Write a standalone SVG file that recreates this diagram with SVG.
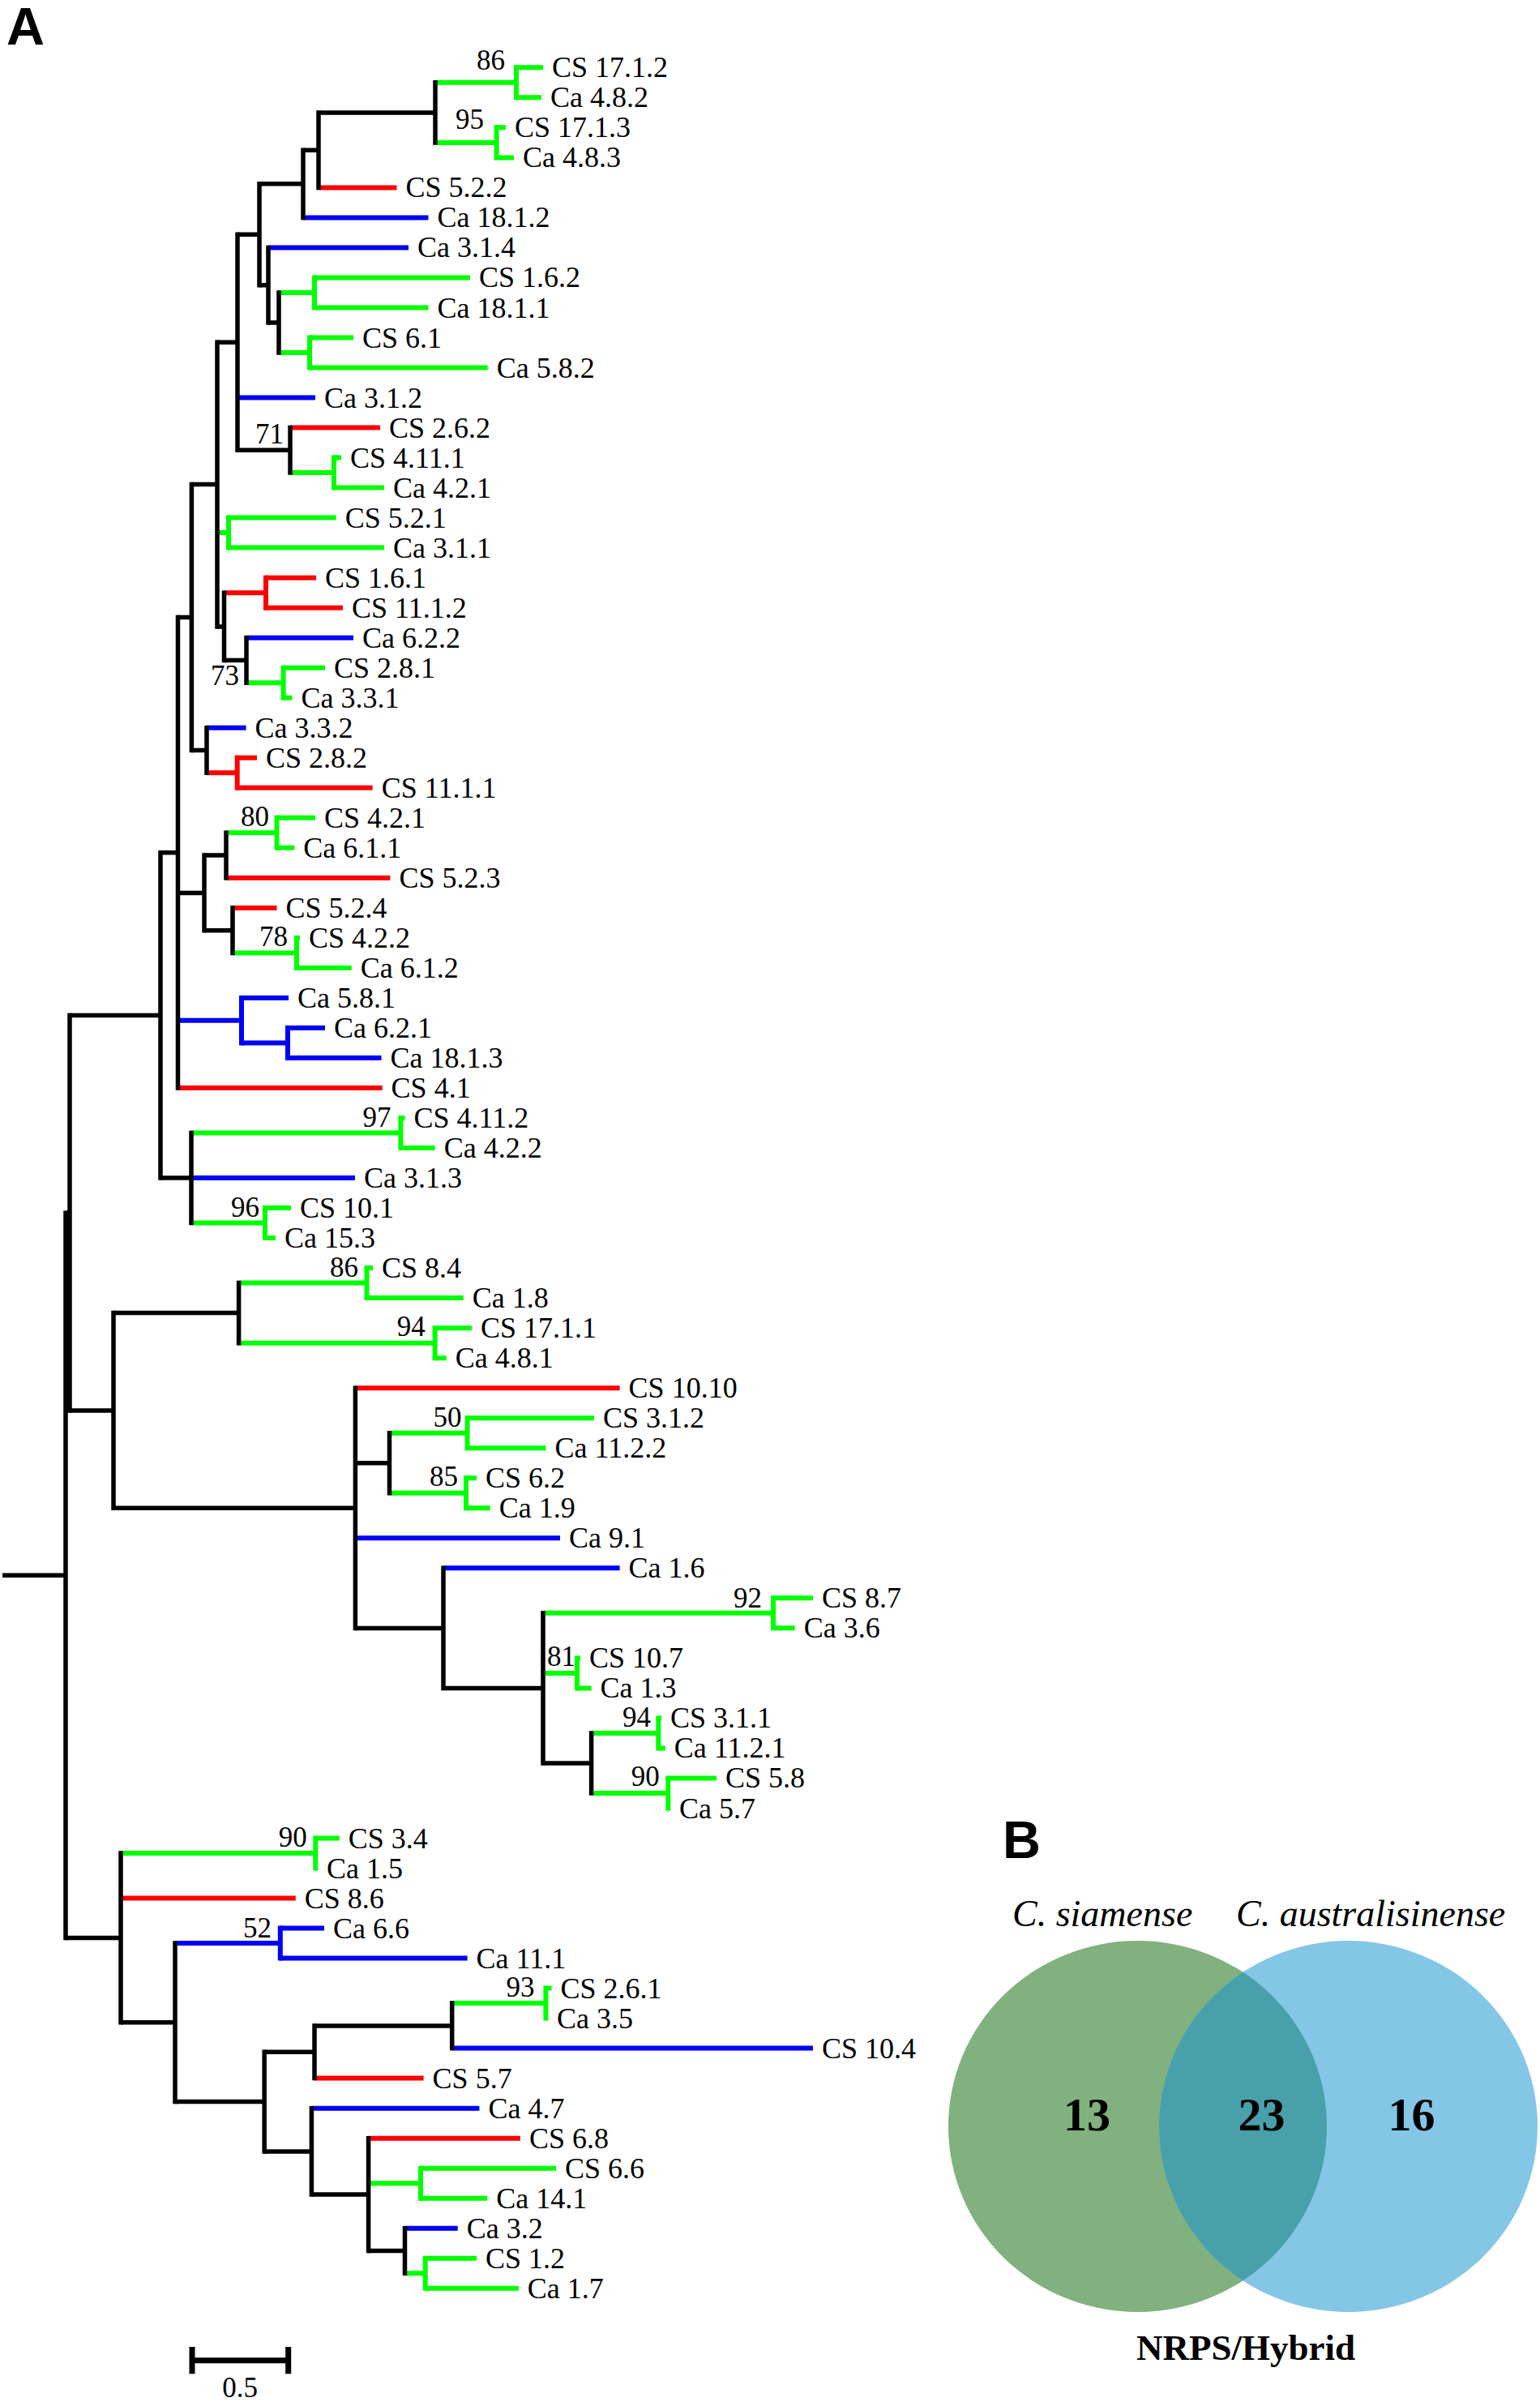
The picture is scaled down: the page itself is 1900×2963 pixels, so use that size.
<svg xmlns="http://www.w3.org/2000/svg" width="1900" height="2963" viewBox="0 0 1900 2963">
<style>
.h{fill:none;stroke-width:6;stroke-linecap:butt}
.v{fill:none;stroke-width:6;stroke-linecap:square}
.k{stroke:#000;stroke-width:5.5}.g{stroke:#00ff00}.r{stroke:#ff0000}.b{stroke:#0000f5}
text{font-family:"Liberation Serif","Times New Roman",serif;fill:#000}
.lf{font-size:36px}
.bs{font-size:35px;text-anchor:end}
.pl{font-family:"Liberation Sans",Arial,sans-serif;font-weight:bold;font-size:65px}
.vn{font-weight:bold;font-size:58px;text-anchor:middle}
.sp{font-style:italic;font-size:46px}
</style>
<defs>
<clipPath id="cg"><ellipse cx="1403.5" cy="2623" rx="233.5" ry="229"/></clipPath>
</defs>
<rect width="1900" height="2963" fill="#fff"/>
<g id="panel-labels">
<text class="pl" x="8" y="55">A</text>
<text class="pl" x="1237" y="2292">B</text>
</g>
<g id="connectors">
<path class="h g" d="M637 83.3H670M637 120.3H668M537 101.8H637M612.6 157.3H624M612.6 194.4H634M537 175.9H612.6M388 342.4H580M388 379.5H528.5M344 361H388M382 416.5H436M382 453.5H601.7M344 435H382M412 564.6H421M412 601.6H474M358 583.1H412M282 638.6H414.7M282 675.6H474M268 657.1H282M349.6 823.7H401M349.6 860.7H360.5M304 842.2H349.6M341.5 1008.8H389M341.5 1045.8H363.2M279 1027.3H341.5M366 1156.9H370M366 1193.9H433.7M287 1175.4H366M494.4 1379H499.5M494.4 1416H536.7M236 1397.5H494.4M327 1490.1H359M327 1527.1H340M236 1508.6H327M452.5 1564.1H460M452.5 1601.1H571.7M294.6 1582.6H452.5M536.6 1638.2H582M536.6 1675.2H550.7M294.6 1656.7H536.6M576.6 1749.2H733M576.6 1786.2H673.5M480.5 1767.7H576.6M575 1823.3H588M575 1860.3H604.7M480.5 1841.8H575M954 1971.3H1003M954 2008.3H980.7M670 1989.8H954M712 2045.4H716M712 2082.4H729.6M670 2063.9H712M812.3 2119.4H816M812.3 2156.4H820.8M729.6 2137.9H812.3M824.3 2193.4H884M824.3 2230.5H827M729.6 2212H824.3M389.3 2267.5H418.8M389.3 2304.5H392M149 2286H389.3M673.4 2452.6H680.5M673.4 2489.6H676M557.7 2471.1H673.4M519 2674.7H686M519 2711.7H601.2M454.6 2693.2H519M524.7 2785.7H588M524.7 2822.8H639.8M499.5 2804.3H524.7"/>
<path class="h r" d="M393 231.4H489.5M358 527.5H469M328 712.7H390M328 749.7H423M276.5 731.2H328M292.7 934.8H317M292.7 971.8H459.7M255 953.3H292.7M279 1082.9H481.4M287 1119.9H341.5M219.5 1342H471.6M438.4 1712.2H764.6M149 2341.5H364.8M388 2563.6H522.6M454.6 2637.7H641.9"/>
<path class="h b" d="M374 268.4H528.5M331 305.4H504M293 490.5H389M304 786.7H436M255 897.8H303.6M298 1230.9H356M219.5 1258.7H298M298 1286.5H355M355 1268H401M355 1305H470.5M236 1453.1H438M438.4 1897.3H691M547 1934.3H764.6M345.8 2378.5H400M345.8 2415.6H576.6M216 2397H345.8M557.7 2526.6H1003M384.4 2600.7H591.4M499.5 2748.7H564.7"/>
<path class="h k" d="M393 138.9H537M374 185.2H393M320 226.8H374M331 398H344M320 351.7H331M293 289.3H320M293 555.3H358M268 422.3H293M276.5 814.5H304M268 772.9H276.5M236.4 597.6H268M236.4 925.6H255M219.5 761.6H236.4M252 1055.1H279M252 1147.7H287M219.5 1101.4H252M198 1051.8H219.5M198 1453H236M86 1252.4H198M140 1619.6H294.6M438.4 1804.8H480.5M670 2175H729.6M547 2082.4H670M438.4 2008.4H547M140 1860.3H438.4M86 1740H140M388 2498.9H557.7M326.2 2531.3H388M454.6 2776.5H499.5M384.4 2707.1H454.6M326.2 2653.9H384.4M216 2592.6H326.2M149 2494.8H216M81 2390.4H149M81 1496.2H86M3 1943.3H81"/>
<path class="v k" d="M537 101.8V175.9M393 138.9V231.4M374 185.2V268.4M344 361V435M331 305.4V398M320 226.8V351.7M358 527.5V583.1M293 289.3V555.3M304 786.7V842.2M276.5 731.2V814.5M268 422.3V772.9M255 897.8V953.3M236.4 597.6V925.6M279 1027.3V1082.9M287 1119.9V1175.4M252 1055.1V1147.7M219.5 761.6V1342M236 1397.5V1508.6M198 1051.8V1453M294.6 1582.6V1656.7M480.5 1767.7V1841.8M729.6 2137.9V2212M670 1989.8V2175M547 1934.3V2082.4M438.4 1712.2V2008.4M140 1619.6V1860.3M86 1252.4V1740M557.7 2471.1V2526.6M388 2498.9V2563.6M499.5 2748.7V2804.3M454.6 2637.7V2776.5M384.4 2600.7V2707.1M326.2 2531.3V2653.9M216 2397V2592.6M149 2286V2494.8M81 1496.2V2390.4"/>
<path class="v g" d="M637 83.3V120.3M612.6 157.3V194.4M388 342.4V379.5M382 416.5V453.5M412 564.6V601.6M282 638.6V675.6M349.6 823.7V860.7M341.5 1008.8V1045.8M366 1156.9V1193.9M494.4 1379V1416M327 1490.1V1527.1M452.5 1564.1V1601.1M536.6 1638.2V1675.2M576.6 1749.2V1786.2M575 1823.3V1860.3M954 1971.3V2008.3M712 2045.4V2082.4M812.3 2119.4V2156.4M824.3 2193.4V2230.5M389.3 2267.5V2304.5M673.4 2452.6V2489.6M519 2674.7V2711.7M524.7 2785.7V2822.8"/>
<path class="v r" d="M328 712.7V749.7M292.7 934.8V971.8"/>
<path class="v b" d="M298 1230.9V1286.5M355 1268V1305M345.8 2378.5V2415.6"/>
</g>
<g id="bootstrap">
<text class="bs" x="623" y="86">86</text>
<text class="bs" x="597" y="159">95</text>
<text class="bs" x="350" y="547">71</text>
<text class="bs" x="295" y="845">73</text>
<text class="bs" x="332" y="1019">80</text>
<text class="bs" x="355" y="1167">78</text>
<text class="bs" x="482.5" y="1390">97</text>
<text class="bs" x="320" y="1501">96</text>
<text class="bs" x="442" y="1575">86</text>
<text class="bs" x="524.7" y="1648">94</text>
<text class="bs" x="569.6" y="1760">50</text>
<text class="bs" x="565" y="1833">85</text>
<text class="bs" x="940" y="1983">92</text>
<text class="bs" x="710" y="2055">81</text>
<text class="bs" x="803" y="2130">94</text>
<text class="bs" x="813.7" y="2203">90</text>
<text class="bs" x="378.8" y="2278">90</text>
<text class="bs" x="335" y="2390">52</text>
<text class="bs" x="659.4" y="2463">93</text>
</g>
<g id="leaves" class="lf">
<g id="leaf01"><text class="lf" x="681" y="95.3">CS 17.1.2</text></g>
<g id="leaf02"><text class="lf" x="679" y="132.3">Ca 4.8.2</text></g>
<g id="leaf03"><text class="lf" x="635" y="169.3">CS 17.1.3</text></g>
<g id="leaf04"><text class="lf" x="645" y="206.4">Ca 4.8.3</text></g>
<g id="leaf05"><text class="lf" x="500.5" y="243.4">CS 5.2.2</text></g>
<g id="leaf06"><text class="lf" x="539.5" y="280.4">Ca 18.1.2</text></g>
<g id="leaf07"><text class="lf" x="515" y="317.4">Ca 3.1.4</text></g>
<g id="leaf08"><text class="lf" x="591" y="354.4">CS 1.6.2</text></g>
<g id="leaf09"><text class="lf" x="539.5" y="391.5">Ca 18.1.1</text></g>
<g id="leaf10"><text class="lf" x="447" y="428.5">CS 6.1</text></g>
<g id="leaf11"><text class="lf" x="612.7" y="465.5">Ca 5.8.2</text></g>
<g id="leaf12"><text class="lf" x="400" y="502.5">Ca 3.1.2</text></g>
<g id="leaf13"><text class="lf" x="480" y="539.5">CS 2.6.2</text></g>
<g id="leaf14"><text class="lf" x="432" y="576.6">CS 4.11.1</text></g>
<g id="leaf15"><text class="lf" x="485" y="613.6">Ca 4.2.1</text></g>
<g id="leaf16"><text class="lf" x="425.7" y="650.6">CS 5.2.1</text></g>
<g id="leaf17"><text class="lf" x="485" y="687.6">Ca 3.1.1</text></g>
<g id="leaf18"><text class="lf" x="401" y="724.7">CS 1.6.1</text></g>
<g id="leaf19"><text class="lf" x="434" y="761.7">CS 11.1.2</text></g>
<g id="leaf20"><text class="lf" x="447" y="798.7">Ca 6.2.2</text></g>
<g id="leaf21"><text class="lf" x="412" y="835.7">CS 2.8.1</text></g>
<g id="leaf22"><text class="lf" x="371.5" y="872.7">Ca 3.3.1</text></g>
<g id="leaf23"><text class="lf" x="314.6" y="909.8">Ca 3.3.2</text></g>
<g id="leaf24"><text class="lf" x="328" y="946.8">CS 2.8.2</text></g>
<g id="leaf25"><text class="lf" x="470.7" y="983.8">CS 11.1.1</text></g>
<g id="leaf26"><text class="lf" x="400" y="1020.8">CS 4.2.1</text></g>
<g id="leaf27"><text class="lf" x="374.2" y="1057.8">Ca 6.1.1</text></g>
<g id="leaf28"><text class="lf" x="492.4" y="1094.9">CS 5.2.3</text></g>
<g id="leaf29"><text class="lf" x="352.5" y="1131.9">CS 5.2.4</text></g>
<g id="leaf30"><text class="lf" x="381" y="1168.9">CS 4.2.2</text></g>
<g id="leaf31"><text class="lf" x="444.7" y="1205.9">Ca 6.1.2</text></g>
<g id="leaf32"><text class="lf" x="367" y="1242.9">Ca 5.8.1</text></g>
<g id="leaf33"><text class="lf" x="412" y="1280">Ca 6.2.1</text></g>
<g id="leaf34"><text class="lf" x="481.5" y="1317">Ca 18.1.3</text></g>
<g id="leaf35"><text class="lf" x="482.6" y="1354">CS 4.1</text></g>
<g id="leaf36"><text class="lf" x="510.5" y="1391">CS 4.11.2</text></g>
<g id="leaf37"><text class="lf" x="547.7" y="1428">Ca 4.2.2</text></g>
<g id="leaf38"><text class="lf" x="449" y="1465.1">Ca 3.1.3</text></g>
<g id="leaf39"><text class="lf" x="370" y="1502.1">CS 10.1</text></g>
<g id="leaf40"><text class="lf" x="351" y="1539.1">Ca 15.3</text></g>
<g id="leaf41"><text class="lf" x="471" y="1576.1">CS 8.4</text></g>
<g id="leaf42"><text class="lf" x="582.7" y="1613.1">Ca 1.8</text></g>
<g id="leaf43"><text class="lf" x="593" y="1650.2">CS 17.1.1</text></g>
<g id="leaf44"><text class="lf" x="561.7" y="1687.2">Ca 4.8.1</text></g>
<g id="leaf45"><text class="lf" x="775.6" y="1724.2">CS 10.10</text></g>
<g id="leaf46"><text class="lf" x="744" y="1761.2">CS 3.1.2</text></g>
<g id="leaf47"><text class="lf" x="684.5" y="1798.2">Ca 11.2.2</text></g>
<g id="leaf48"><text class="lf" x="599" y="1835.3">CS 6.2</text></g>
<g id="leaf49"><text class="lf" x="615.7" y="1872.3">Ca 1.9</text></g>
<g id="leaf50"><text class="lf" x="702" y="1909.3">Ca 9.1</text></g>
<g id="leaf51"><text class="lf" x="775.6" y="1946.3">Ca 1.6</text></g>
<g id="leaf52"><text class="lf" x="1014" y="1983.3">CS 8.7</text></g>
<g id="leaf53"><text class="lf" x="991.7" y="2020.3">Ca 3.6</text></g>
<g id="leaf54"><text class="lf" x="727" y="2057.4">CS 10.7</text></g>
<g id="leaf55"><text class="lf" x="740.6" y="2094.4">Ca 1.3</text></g>
<g id="leaf56"><text class="lf" x="827" y="2131.4">CS 3.1.1</text></g>
<g id="leaf57"><text class="lf" x="831.8" y="2168.4">Ca 11.2.1</text></g>
<g id="leaf58"><text class="lf" x="895" y="2205.4">CS 5.8</text></g>
<g id="leaf59"><text class="lf" x="838" y="2242.5">Ca 5.7</text></g>
<g id="leaf60"><text class="lf" x="429.8" y="2279.5">CS 3.4</text></g>
<g id="leaf61"><text class="lf" x="403" y="2316.5">Ca 1.5</text></g>
<g id="leaf62"><text class="lf" x="375.8" y="2353.5">CS 8.6</text></g>
<g id="leaf63"><text class="lf" x="411" y="2390.5">Ca 6.6</text></g>
<g id="leaf64"><text class="lf" x="587.6" y="2427.6">Ca 11.1</text></g>
<g id="leaf65"><text class="lf" x="691.5" y="2464.6">CS 2.6.1</text></g>
<g id="leaf66"><text class="lf" x="687" y="2501.6">Ca 3.5</text></g>
<g id="leaf67"><text class="lf" x="1014" y="2538.6">CS 10.4</text></g>
<g id="leaf68"><text class="lf" x="533.6" y="2575.6">CS 5.7</text></g>
<g id="leaf69"><text class="lf" x="602.4" y="2612.7">Ca 4.7</text></g>
<g id="leaf70"><text class="lf" x="652.9" y="2649.7">CS 6.8</text></g>
<g id="leaf71"><text class="lf" x="697" y="2686.7">CS 6.6</text></g>
<g id="leaf72"><text class="lf" x="612.2" y="2723.7">Ca 14.1</text></g>
<g id="leaf73"><text class="lf" x="575.7" y="2760.7">Ca 3.2</text></g>
<g id="leaf74"><text class="lf" x="599" y="2797.7">CS 1.2</text></g>
<g id="leaf75"><text class="lf" x="650.8" y="2834.8">Ca 1.7</text></g>
</g>
<g id="scale-bar">
<path d="M237 2911.7H355.7" fill="none" stroke="#000" stroke-width="7"/>
<path d="M237 2895V2928.3M355.7 2895V2928.3" fill="none" stroke="#000" stroke-width="7"/>
<text x="296" y="2957" font-size="35" text-anchor="middle">0.5</text>
</g>
<g id="venn">
<g id="set-siamense"><ellipse cx="1403.5" cy="2623" rx="233.5" ry="229" fill="#80b17e"/></g>
<g id="set-australisinense"><ellipse cx="1663.5" cy="2623" rx="233.5" ry="229" fill="#84c6e6"/></g>
<g id="set-overlap"><ellipse cx="1663.5" cy="2623" rx="233.5" ry="229" fill="#48a0aa" clip-path="url(#cg)"/></g>
<text class="sp" x="1249" y="2376">C. siamense</text>
<text class="sp" x="1525" y="2376">C. australisinense</text>
<text class="vn" x="1341" y="2628">13</text>
<text class="vn" x="1556.5" y="2628">23</text>
<text class="vn" x="1741.5" y="2628">16</text>
<text x="1537" y="2911" font-size="45" font-weight="bold" text-anchor="middle">NRPS/Hybrid</text>
</g>
</svg>
